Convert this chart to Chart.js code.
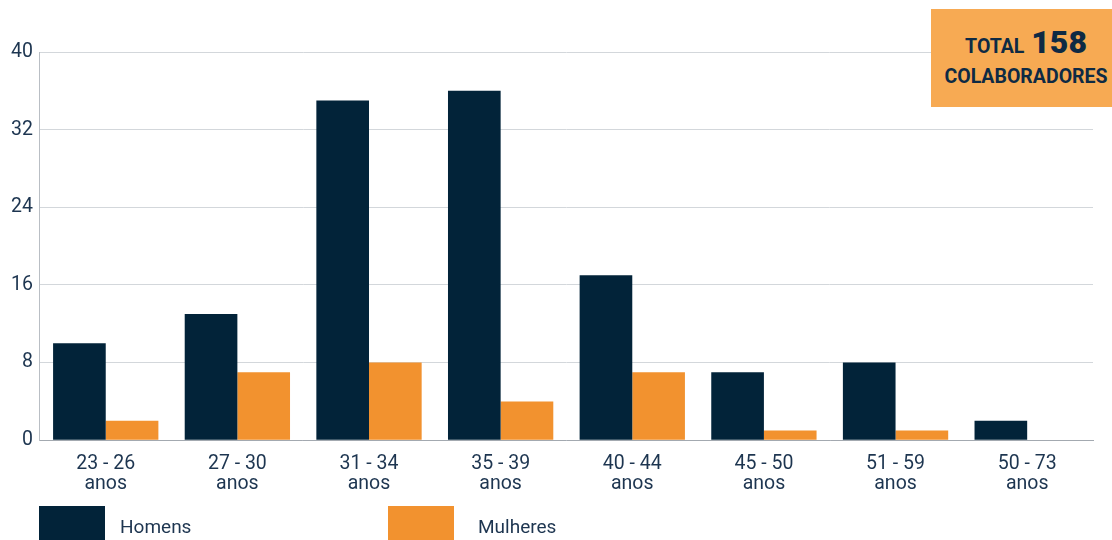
<!DOCTYPE html>
<html>
<head>
<meta charset="utf-8">
<script src="https://cdn.jsdelivr.net/npm/chart.js@4/dist/chart.umd.min.js"></script>
<style>
    html, body { margin: 0; padding: 0; background: #fff; font-family: Roboto, sans-serif; }
    #wrap { position: relative; width: 1112px; height: 540px; overflow: hidden; }
    #ageChart { position: absolute; left: 0; top: 0; }
    .total-box {
        position: absolute; left: 931px; top: 9px; width: 181px; height: 98px; padding-left: 9px;
        box-sizing: border-box;
        background: #f7aa53; color: #0e2a44; font-weight: bold; text-align: center;
    }
    .total-box .l1 { margin-top: 14px; font-size: 19.5px; line-height: 38px; }
    .total-box .l1 b { font-size: 32px; margin-left: 2px; }
    .total-box .l2 { font-size: 19.5px; line-height: 21px; margin-top: 0px; white-space: nowrap; }
    .legend-item { position: absolute; top: 506px; height: 34px; }
    .legend-item .box { position: absolute; left: 0; top: 0; width: 66px; height: 34px; }
    .legend-item span { position: absolute; top: 9px; font-size: 19px; color: #1d3550; white-space: nowrap; }
</style>
</head>
<body>
<div id="wrap">
    <canvas id="ageChart" width="1112" height="540"></canvas>
    <div class="total-box">
        <div class="l1">TOTAL <b>158</b></div>
        <div class="l2">COLABORADORES</div>
    </div>
    <div class="legend-item" style="left:39px"><div class="box" style="background:#022339"></div><span style="left:81px">Homens</span></div>
    <div class="legend-item" style="left:388px"><div class="box" style="background:#f2922f"></div><span style="left:90px">Mulheres</span></div>
</div>
<script>
// Faixas etárias e valores por sexo
const faixas = [
    ['23 - 26', 'anos'], ['27 - 30', 'anos'], ['31 - 34', 'anos'], ['35 - 39', 'anos'],
    ['40 - 44', 'anos'], ['45 - 50', 'anos'], ['51 - 59', 'anos'], ['50 - 73', 'anos']
];
const homens = [10, 13, 35, 36, 17, 7, 8, 2];
const mulheres = [2, 7, 8, 4, 7, 1, 1, 0];
const yTicks = [0, 8, 16, 24, 32, 40];

const textColor = '#1d3550';

new Chart(document.getElementById('ageChart'), {
    type: 'bar',
    data: {
        labels: faixas,
        datasets: [{
            label: 'Homens',
            data: homens,
            backgroundColor: '#022339',
            categoryPercentage: 0.8,
            barPercentage: 1
        }, {
            label: 'Mulheres',
            data: mulheres,
            backgroundColor: '#f2922f',
            categoryPercentage: 0.8,
            barPercentage: 1
        }]
    },
    options: {
        responsive: false,
        animation: false,
        layout: {
            padding: { left: 4, right: 19, top: 52, bottom: 32 }
        },
        plugins: {
            legend: { display: false },
            tooltip: { enabled: false }
        },
        scales: {
            x: {
                grid: { display: false, drawTicks: false },
                border: { color: '#a3a9b0', width: 1 },
                ticks: {
                    color: textColor,
                    padding: 14,
                    font: { family: 'Roboto', size: 19.5, lineHeight: 1.02 },
                    maxRotation: 0
                }
            },
            y: {
                min: 0,
                max: 40,
                afterBuildTicks: axis => { axis.ticks = yTicks.map(v => ({ value: v })); },
                grid: { color: '#d3d7db', drawTicks: false },
                border: { color: '#b9bec4', width: 1 },
                ticks: {
                    color: textColor,
                    padding: 7,
                    font: { family: 'Roboto', size: 19.5 }
                }
            }
        }
    }
});
</script>
</body>
</html>
